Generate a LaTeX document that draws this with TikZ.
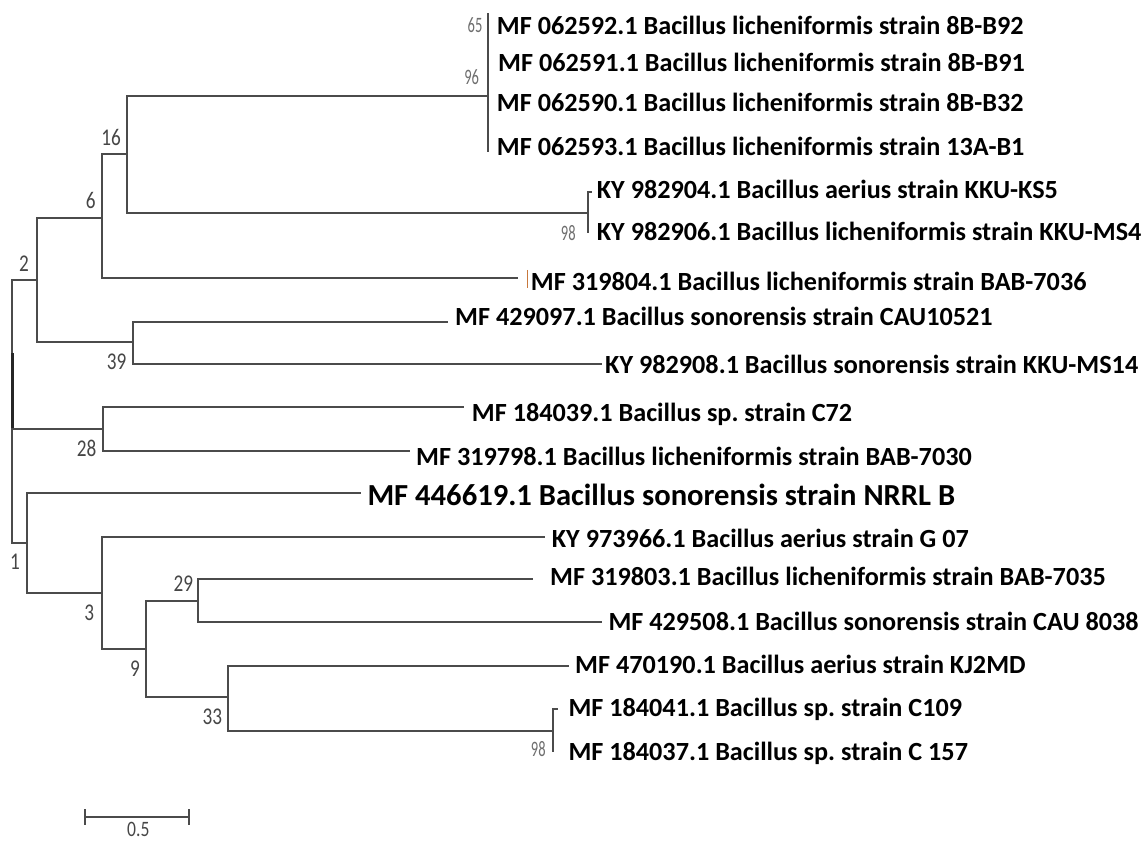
\documentclass[tikz,border=0pt]{standalone}
\usepackage{fontspec}
\usepackage{graphicx}
\setmainfont{Carlito}
\frenchspacing
\definecolor{treeline}{RGB}{75,75,75}
\definecolor{bootgray}{RGB}{70,70,70}
\definecolor{bootlight}{RGB}{110,110,110}
\definecolor{tickorange}{RGB}{200,120,60}
\newcommand{\bvn}[1]{\scalebox{0.8}[1]{#1}}
\newcommand{\bvs}[1]{\scalebox{0.66}[1]{#1}}
\begin{document}
\begin{tikzpicture}[x=1pt,y=-1pt,
  branch/.style={draw=treeline, line width=2.1pt},
  leaflab/.style={anchor=base west, inner sep=0pt, text=black, font=\fontsize{26.2}{30}\selectfont\bfseries},
  biglab/.style={anchor=base west, inner sep=0pt, text=black, font=\fontsize{30.6}{34}\selectfont\bfseries},
  boot/.style={inner sep=0pt, text=bootgray, font=\fontsize{24}{28}\selectfont},
  bootsm/.style={inner sep=0pt, text=bootlight, font=\fontsize{22}{26}\selectfont}]
\useasboundingbox (0,0) rectangle (1141,842);
% internal nodes
\coordinate (root) at (12.3,429);
\coordinate (n2) at (36.7,280);
\coordinate (n28) at (103.3,429);
\coordinate (n1) at (27.3,543.3);
\coordinate (n6) at (101.7,218.3);
\coordinate (n39) at (132.7,342.3);
\coordinate (n16) at (126.7,154.3);
\coordinate (n96) at (487.7,95.7);
\coordinate (n98a) at (587.7,213.3);
\coordinate (n3) at (101.7,593.3);
\coordinate (n9) at (145.7,649.3);
\coordinate (n29) at (197.7,600.7);
\coordinate (n33) at (228.3,696.7);
\coordinate (n98b) at (553.3,730.7);
% leaf ends
\coordinate (e1) at (487.7,13.3);
\coordinate (e4) at (487.7,151.7);
\coordinate (e5) at (592,191.7);
\coordinate (e6) at (587.7,233.3);
\coordinate (e7) at (518.3,277.7);
\coordinate (e8) at (448.3,321.7);
\coordinate (e9) at (601.7,364);
\coordinate (e10) at (464,407.3);
\coordinate (e11) at (410,450.7);
\coordinate (e12) at (360.7,493.3);
\coordinate (e13) at (545,536.7);
\coordinate (e14) at (532.7,579.3);
\coordinate (e15) at (602.3,622.3);
\coordinate (e16) at (569.3,666);
\coordinate (e17) at (558,709.3);
\coordinate (e18) at (553.3,751.7);
% branches
\draw[branch] (root) |- (n2);
\draw[branch] (root) |- (n28);
\draw[branch] (root) |- (n1);
\draw[branch] (n2) |- (n6);
\draw[branch] (n2) |- (n39);
\draw[branch] (n6) |- (n16);
\draw[branch] (n6) |- (e7);
\draw[branch] (n16) |- (n96);
\draw[branch] (n16) |- (n98a);
\draw[branch] (n96) -- (e1);
\draw[branch] (n96) -- (e4);
\draw[branch] (n98a) |- (e5);
\draw[branch] (n98a) |- (e6);
\draw[branch] (n39) |- (e8);
\draw[branch] (n39) |- (e9);
\draw[branch] (n28) |- (e10);
\draw[branch] (n28) |- (e11);
\draw[branch] (n1) |- (e12);
\draw[branch] (n1) |- (n3);
\draw[branch] (n3) |- (e13);
\draw[branch] (n3) |- (n9);
\draw[branch] (n9) |- (n29);
\draw[branch] (n9) |- (n33);
\draw[branch] (n29) |- (e14);
\draw[branch] (n29) |- (e15);
\draw[branch] (n33) |- (e16);
\draw[branch] (n33) |- (n98b);
\draw[branch] (n98b) |- (e17);
\draw[branch] (n98b) |- (e18);
% darker root segment
\coordinate (rt1) at (12.3,353);
\coordinate (rt2) at (12.3,428);
\draw[line width=2.8pt, black!85] (rt1) -- (rt2);
% small orange mark
\coordinate (ot1) at (527,270);
\coordinate (ot2) at (527,288);
\draw[line width=1pt, tickorange] (ot1) -- (ot2);
% leaf labels
\node[leaflab] (l1) at (496.7,34.5) {MF 062592.1 Bacillus licheniformis strain 8B-B92};
\node[leaflab] (l2) at (498,71.8) {MF 062591.1 Bacillus licheniformis strain 8B-B91};
\node[leaflab] (l3) at (496.7,111.8) {MF 062590.1 Bacillus licheniformis strain 8B-B32};
\node[leaflab] (l4) at (496.7,155.2) {MF 062593.1 Bacillus licheniformis strain 13A-B1};
\node[leaflab] (l5) at (596.7,198.5) {KY 982904.1 Bacillus aerius strain KKU-KS5};
\node[leaflab] (l6) at (596.7,240.2) {KY 982906.1 Bacillus licheniformis strain KKU-MS4};
\node[leaflab] (l7) at (530.7,290.2) {MF 319804.1 Bacillus licheniformis strain BAB-7036};
\node[leaflab] (l8) at (455,325.2) {MF 429097.1 Bacillus sonorensis strain CAU10521};
\node[leaflab] (l9) at (605,373.5) {KY 982908.1 Bacillus sonorensis strain KKU-MS14};
\node[leaflab] (l10) at (471.7,421.8) {MF 184039.1 Bacillus sp. strain C72};
\node[leaflab] (l11) at (416,465.2) {MF 319798.1 Bacillus licheniformis strain BAB-7030};
\node[biglab] (l12) at (367.3,505) {MF 446619.1 Bacillus sonorensis strain NRRL B};
\node[leaflab] (l13) at (551.7,547.8) {KY 973966.1 Bacillus aerius strain G 07};
\node[leaflab] (l14) at (550,585.8) {MF 319803.1 Bacillus licheniformis strain BAB-7035};
\node[leaflab] (l15) at (608.3,630.2) {MF 429508.1 Bacillus sonorensis strain CAU 8038};
\node[leaflab] (l16) at (575,673.5) {MF 470190.1 Bacillus aerius strain KJ2MD};
\node[leaflab] (l17) at (568.3,716.8) {MF 184041.1 Bacillus sp. strain C109};
\node[leaflab] (l18) at (568.3,760.2) {MF 184037.1 Bacillus sp. strain C 157};
% bootstrap values
\node[bootsm] (b65) at (475,25) {\bvs{65}};
\node[bootsm] (b96) at (471.7,77.3) {\bvs{96}};
\node[boot] (b16) at (111,137.7) {\bvn{16}};
\node[boot] (b6) at (90.7,200) {\bvn{6}};
\node[boot] (b2) at (24,263.3) {\bvn{2}};
\node[boot] (b39) at (116.7,361.7) {\bvn{39}};
\node[boot] (b28) at (86.7,448.3) {\bvn{28}};
\node[boot] (b1) at (15,561.7) {\bvn{1}};
\node[boot] (b3) at (89.3,612.7) {\bvn{3}};
\node[boot] (b9) at (135,668.3) {\bvn{9}};
\node[boot] (b29) at (183.3,584) {\bvn{29}};
\node[boot] (b33) at (212.3,716.7) {\bvn{33}};
\node[bootsm] (b98a) at (568.3,233.3) {\bvs{98}};
\node[bootsm] (b98b) at (538.3,749.3) {\bvs{98}};
% scale bar
\coordinate (sb1) at (85,816.7);
\coordinate (sb2) at (189,816.7);
\draw[branch] (sb1) -- (sb2);
\draw[branch] ([yshift=-8pt]sb1) -- ([yshift=8pt]sb1);
\draw[branch] ([yshift=-8pt]sb2) -- ([yshift=8pt]sb2);
\node[boot, anchor=base, font=\fontsize{22}{24}\selectfont] (sbl) at (138.3,836) {\bvn{0.5}};
\end{tikzpicture}
\end{document}
